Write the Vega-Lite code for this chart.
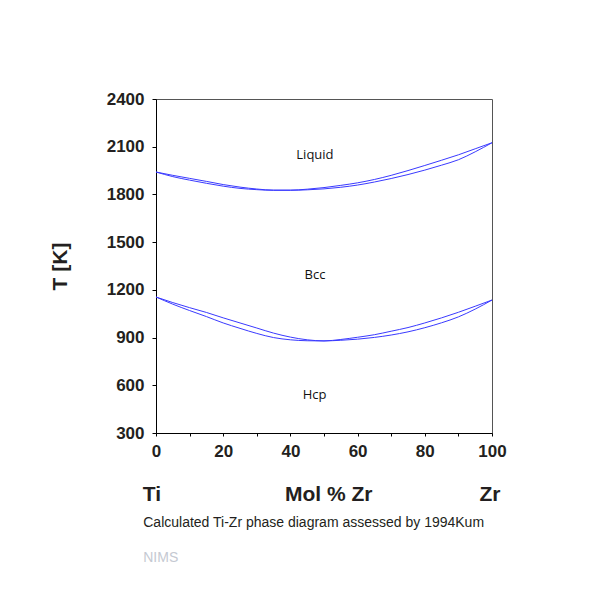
{
  "$schema": "https://vega.github.io/schema/vega-lite/v6.json",
  "autosize": "none",
  "width": 336,
  "height": 334,
  "padding": {"left": 156, "top": 99, "right": 103, "bottom": 160},
  "background": "white",
  "config": {
    "view": {"stroke": "#555555", "strokeWidth": 1},
    "font": "Liberation Sans"
  },
  "encoding": {
    "x": {
      "field": "x", "type": "quantitative",
      "scale": {"domain": [0, 100], "nice": false, "zero": false},
      "axis": {
        "values": [0, 10, 20, 30, 40, 50, 60, 70, 80, 90, 100],
        "labelExpr": "datum.value % 20 == 0 ? datum.label : ''",
        "title": null, "grid": false,
        "domainColor": "#000000", "tickColor": "#000000", "tickSize": 3,
        "labelFont": "Liberation Sans", "labelFontWeight": "bold", "labelFontSize": 17,
        "labelColor": "#231f20", "labelPadding": 7, "labelFlush": false, "labelOverlap": false
      }
    },
    "y": {
      "field": "T", "type": "quantitative",
      "scale": {"domain": [300, 2400], "nice": false, "zero": false},
      "axis": {
        "values": [300, 600, 900, 1200, 1500, 1800, 2100, 2400],
        "format": "d",
        "title": "T [K]", "grid": false,
        "domainColor": "#000000", "tickColor": "#000000", "tickSize": 4,
        "labelFont": "Liberation Sans", "labelFontWeight": "bold", "labelFontSize": 17,
        "labelColor": "#231f20", "labelPadding": 8, "labelFlush": false, "labelOverlap": false,
        "titleFont": "Liberation Sans", "titleFontWeight": "bold", "titleFontSize": 21,
        "titleColor": "#231f20", "titlePadding": 36
      }
    }
  },
  "layer": [
    {
      "data": {"values": [
        {"curve": "liquidus", "x": 0, "T": 1941}, {"curve": "liquidus", "x": 5, "T": 1920}, {"curve": "liquidus", "x": 10, "T": 1901}, {"curve": "liquidus", "x": 15, "T": 1882}, {"curve": "liquidus", "x": 20, "T": 1862}, {"curve": "liquidus", "x": 25, "T": 1846}, {"curve": "liquidus", "x": 30, "T": 1834}, {"curve": "liquidus", "x": 35, "T": 1827}, {"curve": "liquidus", "x": 40, "T": 1827}, {"curve": "liquidus", "x": 45, "T": 1833}, {"curve": "liquidus", "x": 50, "T": 1843}, {"curve": "liquidus", "x": 55, "T": 1857}, {"curve": "liquidus", "x": 60, "T": 1873}, {"curve": "liquidus", "x": 65, "T": 1894}, {"curve": "liquidus", "x": 70, "T": 1920}, {"curve": "liquidus", "x": 75, "T": 1950}, {"curve": "liquidus", "x": 80, "T": 1982}, {"curve": "liquidus", "x": 85, "T": 2015}, {"curve": "liquidus", "x": 90, "T": 2049}, {"curve": "liquidus", "x": 95, "T": 2087}, {"curve": "liquidus", "x": 100, "T": 2125},
        {"curve": "solidus", "x": 0, "T": 1941}, {"curve": "solidus", "x": 5, "T": 1912}, {"curve": "solidus", "x": 10, "T": 1890}, {"curve": "solidus", "x": 15, "T": 1870}, {"curve": "solidus", "x": 20, "T": 1852}, {"curve": "solidus", "x": 25, "T": 1838}, {"curve": "solidus", "x": 30, "T": 1830}, {"curve": "solidus", "x": 35, "T": 1826}, {"curve": "solidus", "x": 40, "T": 1826}, {"curve": "solidus", "x": 45, "T": 1829}, {"curve": "solidus", "x": 50, "T": 1835}, {"curve": "solidus", "x": 55, "T": 1845}, {"curve": "solidus", "x": 60, "T": 1859}, {"curve": "solidus", "x": 65, "T": 1878}, {"curve": "solidus", "x": 70, "T": 1900}, {"curve": "solidus", "x": 75, "T": 1925}, {"curve": "solidus", "x": 80, "T": 1953}, {"curve": "solidus", "x": 85, "T": 1984}, {"curve": "solidus", "x": 90, "T": 2018}, {"curve": "solidus", "x": 95, "T": 2068}, {"curve": "solidus", "x": 100, "T": 2125},
        {"curve": "bcc_upper", "x": 0, "T": 1155}, {"curve": "bcc_upper", "x": 5, "T": 1120}, {"curve": "bcc_upper", "x": 10, "T": 1088}, {"curve": "bcc_upper", "x": 15, "T": 1058}, {"curve": "bcc_upper", "x": 20, "T": 1024}, {"curve": "bcc_upper", "x": 25, "T": 992}, {"curve": "bcc_upper", "x": 30, "T": 960}, {"curve": "bcc_upper", "x": 35, "T": 928}, {"curve": "bcc_upper", "x": 40, "T": 903}, {"curve": "bcc_upper", "x": 45, "T": 886}, {"curve": "bcc_upper", "x": 50, "T": 879}, {"curve": "bcc_upper", "x": 55, "T": 888}, {"curve": "bcc_upper", "x": 60, "T": 902}, {"curve": "bcc_upper", "x": 65, "T": 918}, {"curve": "bcc_upper", "x": 70, "T": 940}, {"curve": "bcc_upper", "x": 75, "T": 963}, {"curve": "bcc_upper", "x": 80, "T": 992}, {"curve": "bcc_upper", "x": 85, "T": 1024}, {"curve": "bcc_upper", "x": 90, "T": 1059}, {"curve": "bcc_upper", "x": 95, "T": 1097}, {"curve": "bcc_upper", "x": 100, "T": 1136},
        {"curve": "hcp_lower", "x": 0, "T": 1155}, {"curve": "hcp_lower", "x": 5, "T": 1110}, {"curve": "hcp_lower", "x": 10, "T": 1070}, {"curve": "hcp_lower", "x": 15, "T": 1032}, {"curve": "hcp_lower", "x": 20, "T": 992}, {"curve": "hcp_lower", "x": 25, "T": 958}, {"curve": "hcp_lower", "x": 30, "T": 926}, {"curve": "hcp_lower", "x": 35, "T": 900}, {"curve": "hcp_lower", "x": 40, "T": 886}, {"curve": "hcp_lower", "x": 45, "T": 880}, {"curve": "hcp_lower", "x": 50, "T": 879}, {"curve": "hcp_lower", "x": 55, "T": 883}, {"curve": "hcp_lower", "x": 60, "T": 890}, {"curve": "hcp_lower", "x": 65, "T": 901}, {"curve": "hcp_lower", "x": 70, "T": 916}, {"curve": "hcp_lower", "x": 75, "T": 936}, {"curve": "hcp_lower", "x": 80, "T": 962}, {"curve": "hcp_lower", "x": 85, "T": 993}, {"curve": "hcp_lower", "x": 90, "T": 1030}, {"curve": "hcp_lower", "x": 95, "T": 1079}, {"curve": "hcp_lower", "x": 100, "T": 1136}
      ]},
      "mark": {"type": "line", "color": "#3a3aff", "strokeWidth": 1, "interpolate": "monotone"},
      "encoding": {"detail": {"field": "curve"}, "order": {"field": "x", "type": "quantitative"}}
    },
    {
      "data": {"values": [
        {"x": 47.3, "T": 2023, "label": "Liquid"},
        {"x": 47.3, "T": 1270, "label": "Bcc"},
        {"x": 47.2, "T": 512, "label": "Hcp"}
      ]},
      "mark": {"type": "text", "font": "Open Sans", "fontSize": 13, "color": "#111111", "align": "center", "baseline": "alphabetic"},
      "encoding": {"text": {"field": "label"}}
    },
    {
      "data": {"values": [
        {"x": -1.2, "T": -125, "label": "Ti"},
        {"x": 51.4, "T": -125, "label": "Mol % Zr"},
        {"x": 99.4, "T": -125, "label": "Zr"}
      ]},
      "mark": {"type": "text", "font": "Liberation Sans", "fontWeight": "bold", "fontSize": 21, "color": "#231f20", "align": "center", "baseline": "alphabetic"},
      "encoding": {"text": {"field": "label"}}
    },
    {
      "data": {"values": [
        {"x": -3.8, "T": -293, "label": "Calculated Ti-Zr phase diagram assessed by 1994Kum"}
      ]},
      "mark": {"type": "text", "font": "Liberation Sans", "fontSize": 14, "color": "#231f20", "align": "left", "baseline": "alphabetic"},
      "encoding": {"text": {"field": "label"}}
    },
    {
      "data": {"values": [
        {"x": -3.8, "T": -509, "label": "NIMS"}
      ]},
      "mark": {"type": "text", "font": "Liberation Sans", "fontSize": 14, "color": "#c5c9d2", "align": "left", "baseline": "alphabetic"},
      "encoding": {"text": {"field": "label"}}
    }
  ]
}
